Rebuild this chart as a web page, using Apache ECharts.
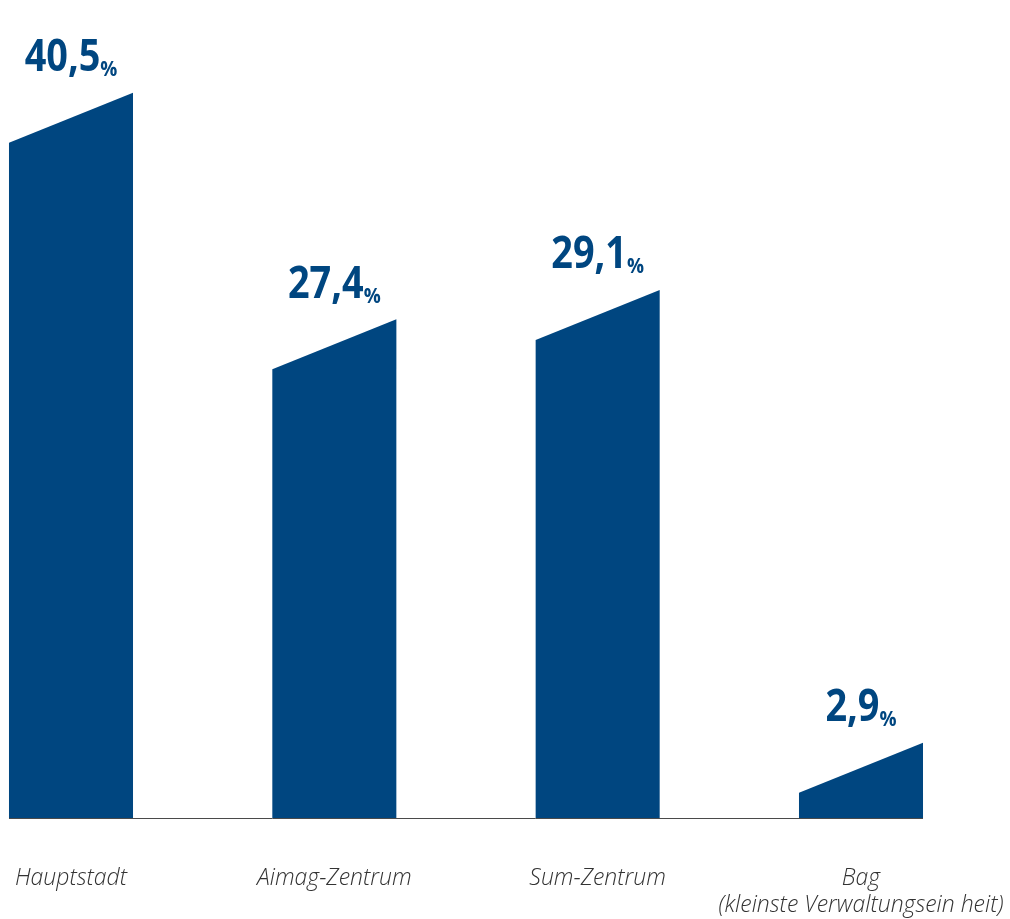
<!DOCTYPE html>
<html>
<head>
<meta charset="utf-8">
<title>Anteile nach Siedlungstyp</title>
<script src="https://cdn.jsdelivr.net/npm/echarts@6/dist/echarts.min.js"></script>
<style>
  html, body { margin: 0; padding: 0; background: #ffffff; }
  #chart { width: 1010px; height: 919px; }
</style>
</head>
<body>
<div id="chart"></div>
<script>
// Categories (settlement types) and their shares in percent
const categories = ['Hauptstadt', 'Aimag-Zentrum', 'Sum-Zentrum', 'Bag\n(kleinste Verwaltungsein heit)'];
const shares = [40.5, 27.4, 29.1, 2.9];

// German decimal comma for the value labels
const shareLabels = shares.map(v => v.toFixed(1).replace('.', ','));

const BAR_BLUE = '#004680';
const BAR_RATIO = 0.471;   // bar width as a share of the category spacing
const SLANT = 50;          // rise of the sloped bar top, in pixels
const LABEL_FONT = "'Open Sans', 'Noto Sans', sans-serif";

const chart = echarts.init(document.getElementById('chart'), null, { renderer: 'canvas' });

function renderSlantedBar(params, api) {
  const idx = api.value(0);
  const val = api.value(1);
  const topPt = api.coord([idx, val]);
  const basePt = api.coord([idx, 0]);
  const step = api.size([1, 0])[0];
  const w = step * BAR_RATIO;
  const x0 = topPt[0] - w / 2;
  const x1 = topPt[0] + w / 2;
  const yBase = basePt[1];
  // the value sits at the middle of the sloped top
  const yLeft = topPt[1] + SLANT / 2;
  const yRight = topPt[1] - SLANT / 2;

  // baseline segment from this bar to the next one
  const last = params.dataIndex === shares.length - 1;
  const lineEnd = last ? x1 : api.coord([idx + 1, 0])[0] - w / 2;

  return {
    type: 'group',
    children: [
      {
        type: 'line',
        shape: { x1: x0, y1: yBase + 0.5, x2: lineEnd, y2: yBase + 0.5 },
        style: { stroke: '#4a4a4a', lineWidth: 1.2 },
        z2: 1
      },
      {
        type: 'polygon',
        shape: { points: [[x0, yBase], [x0, yLeft], [x1, yRight], [x1, yBase]] },
        style: { fill: BAR_BLUE },
        z2: 2
      },
      {
        type: 'text',
        x: topPt[0],
        y: yRight - 12,
        scaleX: 0.86,
        style: {
          text: '{n|' + shareLabels[params.dataIndex] + '}{p|%}',
          align: 'center',
          verticalAlign: 'bottom',
          rich: {
            n: {
              fontFamily: LABEL_FONT,
              fontWeight: 'bold',
              fontSize: 44,
              lineHeight: 44,
              fill: BAR_BLUE,
              verticalAlign: 'bottom'
            },
            p: {
              fontFamily: LABEL_FONT,
              fontWeight: 'bold',
              fontSize: 22,
              lineHeight: 29,
              fill: BAR_BLUE,
              verticalAlign: 'bottom'
            }
          }
        },
        z2: 3
      }
    ]
  };
}

chart.setOption({
  animation: false,
  backgroundColor: '#ffffff',
  grid: { left: 71, right: 149, top: 40, bottom: 100, containLabel: false },
  xAxis: {
    type: 'category',
    data: categories,
    boundaryGap: false,
    axisLine: { show: false },
    axisTick: { show: false },
    axisLabel: {
      interval: 0,
      margin: 47,
      fontFamily: "'Open Sans', 'Noto Sans', sans-serif",
      fontStyle: 'italic',
      fontWeight: 300,
      fontSize: 23,
      lineHeight: 27,
      color: '#333333',
      align: 'center'
    }
  },
  yAxis: {
    type: 'value',
    min: 0,
    max: 45,
    show: false,
    splitLine: { show: false }
  },
  series: [{
    type: 'custom',
    clip: false,
    renderItem: renderSlantedBar,
    encode: { x: 0, y: 1 },
    data: shares.map((v, i) => [i, v])
  }]
});
</script>
</body>
</html>
